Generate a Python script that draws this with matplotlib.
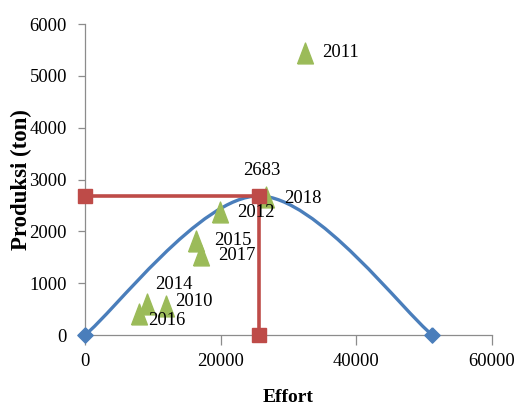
import matplotlib
matplotlib.use("Agg")
import matplotlib.pyplot as plt
from matplotlib.path import Path
from matplotlib.patches import PathPatch

# Observed catch vs. effort by year
years = ["2010", "2011", "2012", "2014", "2015", "2016", "2017", "2018"]
effort = [11900, 32500, 19850, 9170, 16420, 7940, 17150, 26720]
produksi = [560, 5450, 2380, 600, 1820, 405, 1545, 2665]

# Schaefer curve anchor points: origin, MSY, and maximum effort
curve_effort = [0, 25600, 51200]
curve_catch = [0, 2683, 0]

# MSY reference lines
f_msy = 25600
c_msy = 2683

# label offsets in pixels (dx, dy) per year
label_offsets = {
    "2010": (9, 4), "2011": (17, 0), "2012": (17, -1), "2014": (8, 19),
    "2015": (18, 0), "2016": (9, -6), "2017": (17, -1), "2018": (18, -2),
}

FONT = "Liberation Serif"
FS = 13.4
plt.rcParams["font.family"] = FONT

fig = plt.figure(figsize=(5.17, 4.08), dpi=100)
ax = fig.add_axes([85 / 517, 1 - 335 / 408, (492 - 85) / 517, (335 - 24) / 408])

blue = "#4A7EBB"
red = "#BE4B48"
green = "#9BBB59"

# Smoothed curve through the three anchor points (cubic Bezier segments)
P = list(zip(curve_effort, curve_catch))
verts = [P[0]]
codes = [Path.MOVETO]
n = len(P)
for i in range(n - 1):
    p_prev = P[i - 1] if i > 0 else P[i]
    p0 = P[i]
    p1 = P[i + 1]
    p_next = P[i + 2] if i + 2 < n else P[i + 1]
    c1 = (p0[0] + (p1[0] - p_prev[0]) / 6, p0[1] + (p1[1] - p_prev[1]) / 6)
    c2 = (p1[0] - (p_next[0] - p0[0]) / 6, p1[1] - (p_next[1] - p0[1]) / 6)
    verts += [c1, c2, p1]
    codes += [Path.CURVE4] * 3
ax.add_patch(PathPatch(Path(verts, codes), facecolor="none", edgecolor=blue,
                       lw=2.4, zorder=2, clip_on=False, capstyle="round"))

diamond = [(0, 1), (1, 0), (0, -1), (-1, 0), (0, 1)]
ax.plot([curve_effort[0], curve_effort[-1]], [curve_catch[0], curve_catch[-1]],
        linestyle="none", marker=diamond, ms=11, color=blue, mec=blue,
        zorder=3, clip_on=False)

# Observations
tri = [(-0.38, -0.5), (0.38, -0.5), (0, 0.5), (-0.38, -0.5)]
ax.plot(effort, produksi, linestyle="none", marker=tri, ms=15,
        color=green, mec=green, zorder=4, clip_on=False)
for yr, x, y in zip(years, effort, produksi):
    dx, dy = label_offsets[yr]
    ax.annotate(yr, (x, y), xytext=(dx, dy), textcoords="offset pixels",
                ha="left", va="center", fontsize=FS, zorder=6)

# MSY reference lines and markers
ax.plot([0, f_msy, f_msy], [c_msy, c_msy, 0], color=red, lw=2.6, zorder=5,
        clip_on=False)
ax.plot([0, f_msy, f_msy], [c_msy, c_msy, 0], linestyle="none", marker="s",
        ms=9.5, color=red, mec=red, zorder=5, clip_on=False)
ax.annotate(str(c_msy), (f_msy, c_msy), xytext=(3, 25), textcoords="offset pixels",
            ha="center", va="center", fontsize=FS, zorder=6)

ax.set_xlim(0, 60000)
ax.set_ylim(0, 6000)
ax.set_xticks([0, 20000, 40000, 60000])
ax.set_yticks(range(0, 6001, 1000))

for s in ["top", "right"]:
    ax.spines[s].set_visible(False)
for s in ["left", "bottom"]:
    ax.spines[s].set_color("#8C8C8C")
    ax.spines[s].set_linewidth(0.9)
ax.tick_params(axis="x", direction="out", length=7, width=0.9, color="#8C8C8C",
               pad=6, labelsize=FS)
ax.tick_params(axis="y", direction="out", length=5, width=0.9, color="#8C8C8C",
               pad=8, labelsize=FS)

ax.set_xlabel("Effort", fontsize=14, fontweight="bold", labelpad=14)
ax.set_ylabel("Produksi (ton)", fontsize=16.5, fontweight="bold", labelpad=-2)

fig.savefig("out.png", dpi=100)
